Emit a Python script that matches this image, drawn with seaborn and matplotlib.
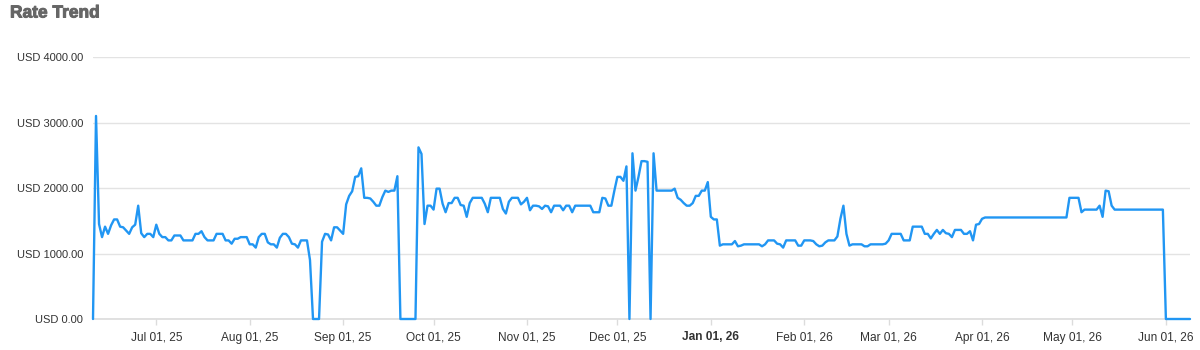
import matplotlib
matplotlib.use("Agg")
import matplotlib.pyplot as plt
import matplotlib.patheffects as pe
import seaborn as sns
import pandas as pd

# ---- data ----
start_date = "2025-06-10"
rates = [
    0, 3100, 1450, 1250, 1410, 1300, 1430, 1520, 1520, 1410,          # 0-9
    1400, 1350, 1300, 1400, 1440, 1730, 1310, 1250, 1300, 1300,       # 10-19
    1250, 1440, 1300, 1250, 1250, 1200, 1200, 1275, 1275, 1275,       # 20-29
    1200, 1200, 1200, 1200, 1300, 1300, 1340, 1250, 1200, 1200,       # 30-39
    1200, 1300, 1300, 1300, 1200, 1200, 1150, 1225, 1225, 1250,       # 40-49
    1250, 1250, 1140, 1140, 1090, 1250, 1300, 1300, 1170, 1140,       # 50-59
    1140, 1090, 1240, 1300, 1300, 1250, 1150, 1140, 1090, 1200,       # 60-69
    1200, 1200, 900, 0, 0, 0, 1180, 1300, 1290, 1200,                 # 70-79
    1400, 1400, 1350, 1300, 1750, 1880, 1950, 2170, 2180, 2300,       # 80-89
    1850, 1850, 1840, 1790, 1730, 1730, 1860, 1960, 1940, 1960,       # 90-99
    1960, 2180, 0, 0, 0, 0, 0, 0, 2620, 2520,                         # 100-109
    1450, 1730, 1730, 1670, 1990, 1990, 1760, 1630, 1770, 1770,       # 110-119
    1850, 1850, 1740, 1730, 1560, 1770, 1850, 1850, 1850, 1850,       # 120-129
    1760, 1630, 1850, 1850, 1850, 1850, 1680, 1610, 1790, 1850,       # 130-139
    1850, 1850, 1750, 1790, 1850, 1660, 1730, 1730, 1720, 1680,       # 140-149
    1730, 1720, 1630, 1730, 1730, 1730, 1660, 1730, 1730, 1630,       # 150-159
    1730, 1730, 1730, 1730, 1730, 1730, 1630, 1630, 1630, 1850,       # 160-169
    1840, 1730, 1730, 1960, 2170, 2170, 2110, 2330, 0, 2530,          # 170-179
    1960, 2170, 2410, 2410, 2400, 0, 2530, 1960, 1960, 1960,          # 180-189
    1960, 1960, 1960, 1990, 1850, 1820, 1770, 1730, 1730, 1770,       # 190-199
    1880, 1880, 1960, 1960, 2090, 1560, 1520, 1520, 1120, 1140,       # 200-209
    1140, 1140, 1140, 1190, 1110, 1120, 1140, 1140, 1140, 1140,       # 210-219
    1140, 1140, 1110, 1140, 1200, 1200, 1200, 1150, 1140, 1090,       # 220-229
    1200, 1200, 1200, 1200, 1120, 1120, 1200, 1200, 1200, 1190,       # 230-239
    1140, 1110, 1120, 1170, 1200, 1200, 1200, 1260, 1530, 1730,       # 240-249
    1300, 1120, 1140, 1140, 1140, 1140, 1110, 1110, 1140, 1140,       # 250-259
    1140, 1140, 1140, 1150, 1200, 1300, 1300, 1300, 1300, 1200,       # 260-269
    1200, 1200, 1410, 1410, 1410, 1410, 1300, 1300, 1230, 1300,       # 270-279
    1360, 1300, 1360, 1310, 1300, 1250, 1360, 1360, 1360, 1300,       # 280-289
    1300, 1340, 1200, 1440, 1450, 1530, 1550, 1550, 1550, 1550,       # 290-299
    1550, 1550, 1550, 1550, 1550, 1550, 1550, 1550, 1550, 1550,       # 300-309
    1550, 1550, 1550, 1550, 1550, 1550, 1550, 1550, 1550, 1550,       # 310-319
    1550, 1550, 1550, 1550, 1850, 1850, 1850, 1850, 1630, 1670,       # 320-329
    1670, 1670, 1670, 1670, 1730, 1560, 1960, 1950, 1730, 1670,       # 330-339
    1670, 1670, 1670, 1670, 1670, 1670, 1670, 1670, 1670, 1670,       # 340-349
    1670, 1670, 1670, 1670, 1670, 1670, 0, 0, 0, 0,                   # 350-359
    0, 0, 0, 0, 0,                                                    # 360-364
]
y_ticks = [0, 1000, 2000, 3000, 4000]
y_tick_labels = ["USD 0.00", "USD 1000.00", "USD 2000.00", "USD 3000.00", "USD 4000.00"]
x_tick_dates = ["2025-07-01", "2025-08-01", "2025-09-01", "2025-10-01", "2025-11-01",
                "2025-12-01", "2026-01-01", "2026-02-01", "2026-03-01", "2026-04-01",
                "2026-05-01", "2026-06-01"]
x_tick_labels = ["Jul 01, 25", "Aug 01, 25", "Sep 01, 25", "Oct 01, 25", "Nov 01, 25",
                 "Dec 01, 25", "Jan 01, 26", "Feb 01, 26", "Mar 01, 26", "Apr 01, 26",
                 "May 01, 26", "Jun 01, 26"]
title = "Rate Trend"

dates = pd.date_range(start_date, periods=len(rates), freq="D")
df = pd.DataFrame({"date": dates, "rate": rates})

sns.set_theme(style="white")
plt.rcParams["font.family"] = ["Liberation Sans", "DejaVu Sans"]

W, H = 1200, 350
fig = plt.figure(figsize=(12, 3.5), dpi=100)
ax = fig.add_axes([93 / W, 1 - 319 / H, (1190 - 93) / W, (319 - 57) / H])

sns.lineplot(data=df, x="date", y="rate", ax=ax, color="#2196f3", linewidth=1.7,
             solid_joinstyle="round", zorder=5, clip_on=False)

ax.set_xlim(dates[0], dates[-1])
ax.set_ylim(0, 4000)
ax.set_yticks(y_ticks)
ax.set_yticklabels(y_tick_labels)
ax.set_xticks(pd.to_datetime(x_tick_dates))
ax.set_xticklabels(x_tick_labels)
for lbl in ax.get_xticklabels():
    if lbl.get_text().startswith("Jan"):
        lbl.set_fontweight("bold")

ax.yaxis.grid(True, color="#e3e3e3", linewidth=1)
ax.xaxis.grid(False)
for s in ["top", "right", "left"]:
    ax.spines[s].set_visible(False)
ax.spines["bottom"].set_color("#dcdcdc")
ax.spines["bottom"].set_linewidth(1.2)
ax.spines["bottom"].set_zorder(1)
ax.tick_params(axis="y", length=0, pad=7, labelsize=8, labelcolor="#333333")
ax.tick_params(axis="x", bottom=True, length=4, width=1, color="#dcdcdc", pad=5,
               labelsize=8.6, labelcolor="#333333", direction="out")
ax.set_xlabel("")
ax.set_ylabel("")
ax.set_facecolor("white")
fig.patch.set_facecolor("white")

fig.text(10 / W, 1 - 13 / H, title, fontsize=12.5, fontweight="bold",
         color="#666666", va="center", ha="left",
         path_effects=[pe.withStroke(linewidth=0.7, foreground="#666666")])

fig.savefig("out.png", dpi=100, facecolor="white")
